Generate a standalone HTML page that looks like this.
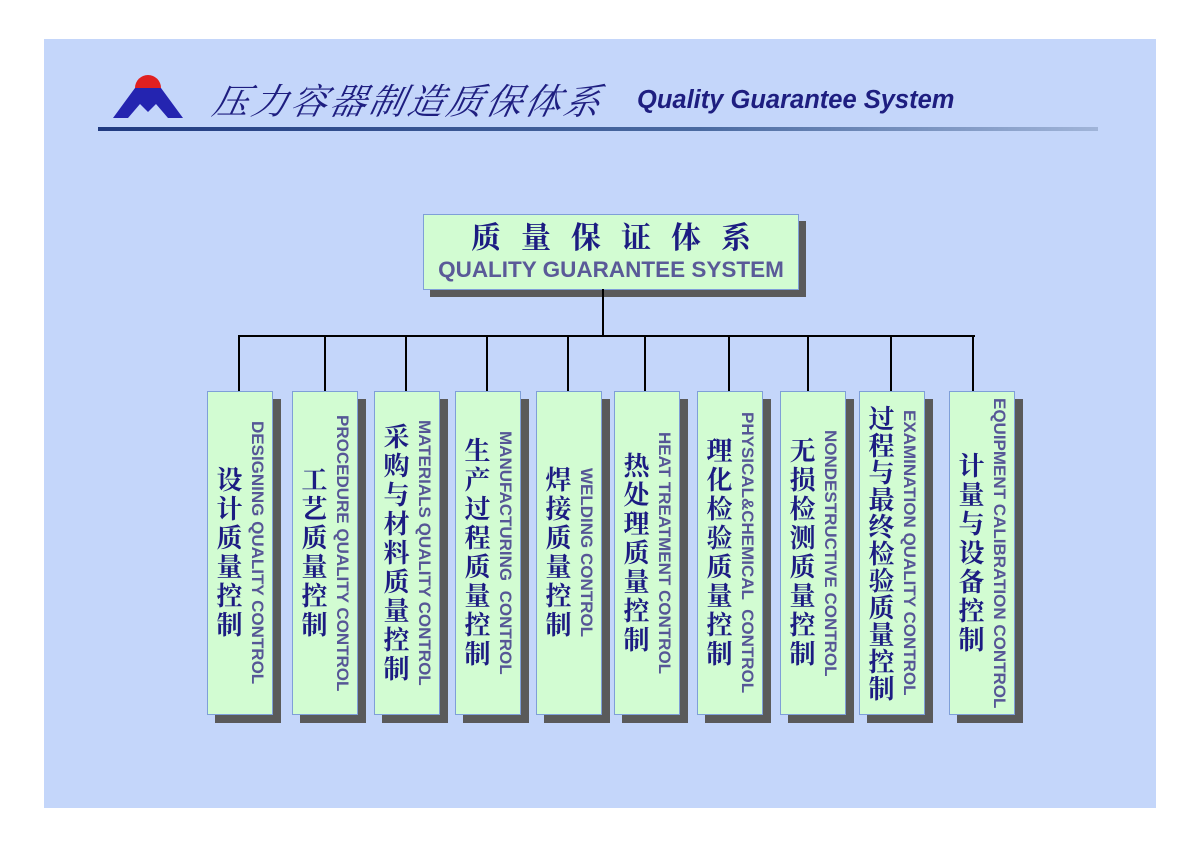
<!DOCTYPE html>
<html><head><meta charset="utf-8"><style>
body{margin:0;width:1200px;height:848px;background:#fff;position:relative;overflow:hidden;font-family:"Liberation Sans","Noto Sans CJK SC",sans-serif}
.panel{position:absolute;left:44px;top:39px;width:1112px;height:769px;background:#c4d6fa}
.a{position:absolute}
.box{position:absolute;top:391px;width:64px;height:322px;background:#d2fcd2;border:1px solid #7f9fd8;box-shadow:8px 8px 0 #5a5a5a;display:flex;justify-content:center;align-items:center;gap:6px}
.cn{writing-mode:vertical-rl;font-family:"Liberation Serif","Noto Serif CJK SC",serif;font-size:26px;line-height:28px;letter-spacing:3px;color:#1c1c82;font-weight:bold}
.en{writing-mode:vertical-rl;font-size:17px;font-weight:bold;color:#565696;white-space:pre;line-height:20px}
.v{position:absolute;width:2px;background:#000}
</style></head><body>
<div class="panel"></div>
<svg class="a" style="left:110px;top:70px" width="80" height="52">
<path d="M25 18 A13 13 0 0 1 51 18 Z" fill="#e02020"/>
<path d="M3 48 L25 18 L51 18 L73 48 L58 48 L46 34 L38 42 L30 34 L18 48 Z" fill="#2424b0"/>
</svg>
<div class="a" style="left:214px;top:74px;font-family:'Liberation Serif','Noto Serif CJK SC',serif;font-style:italic;font-size:36px;color:#1e1e80;letter-spacing:3px;transform:skewX(-12deg)">压力容器制造质保体系</div>
<div class="a" style="left:637px;top:86px;font-size:25.5px;font-weight:bold;font-style:italic;color:#1e1e80">Quality Guarantee System</div>
<div class="a" style="left:98px;top:127px;width:1000px;height:4px;background:linear-gradient(90deg,#203a80,#4a6aa0 60%,#a0b4d8)"></div>

<div class="a" style="left:423px;top:214px;width:374px;height:74px;background:#d2fcd2;border:1px solid #7f9fd8;box-shadow:7px 7px 0 #5a5a5a;text-align:center">
<div style="font-family:'Liberation Serif','Noto Serif CJK SC',serif;font-size:30px;font-weight:bold;color:#1c1c82;letter-spacing:20px;margin-top:6px;line-height:36px;padding-left:20px">质量保证体系</div>
<div style="font-size:22.5px;font-weight:bold;color:#5a5a98;line-height:26px">QUALITY GUARANTEE SYSTEM</div>
</div>
<div class="v" style="left:602px;top:289px;height:48px"></div>
<div class="a" style="left:238px;top:335px;width:737px;height:2px;background:#000"></div>
<div class="v" style="left:238px;top:335px;height:56px"></div>
<div class="v" style="left:324px;top:335px;height:56px"></div>
<div class="v" style="left:405px;top:335px;height:56px"></div>
<div class="v" style="left:486px;top:335px;height:56px"></div>
<div class="v" style="left:567px;top:335px;height:56px"></div>
<div class="v" style="left:644px;top:335px;height:56px"></div>
<div class="v" style="left:728px;top:335px;height:56px"></div>
<div class="v" style="left:807px;top:335px;height:56px"></div>
<div class="v" style="left:890px;top:335px;height:56px"></div>
<div class="v" style="left:972px;top:335px;height:56px"></div>

<div class="box" style="left:207px"><div class="cn">设计质量控制</div><div class="en">DESIGNING QUALITY CONTROL</div></div>
<div class="box" style="left:292px"><div class="cn">工艺质量控制</div><div class="en">PROCEDURE QUALITY CONTROL</div></div>
<div class="box" style="left:374px"><div class="cn">采购与材料质量控制</div><div class="en">MATERIALS QUALITY CONTROL</div></div>
<div class="box" style="left:455px"><div class="cn">生产过程质量控制</div><div class="en">MANUFACTURING  CONTROL</div></div>
<div class="box" style="left:536px"><div class="cn">焊接质量控制</div><div class="en">WELDING CONTROL</div></div>
<div class="box" style="left:614px"><div class="cn">热处理质量控制</div><div class="en">HEAT TREATMENT CONTROL</div></div>
<div class="box" style="left:697px"><div class="cn">理化检验质量控制</div><div class="en">PHYSICAL&amp;CHEMICAL  CONTROL</div></div>
<div class="box" style="left:780px"><div class="cn">无损检测质量控制</div><div class="en">NONDESTRUCTIVE CONTROL</div></div>
<div class="box" style="left:859px"><div class="cn" style="letter-spacing:1px">过程与最终检验质量控制</div><div class="en">EXAMINATION QUALITY CONTROL</div></div>
<div class="box" style="left:949px"><div class="cn">计量与设备控制</div><div class="en">EQUIPMENT CALIBRATION CONTROL</div></div>
</body></html>
